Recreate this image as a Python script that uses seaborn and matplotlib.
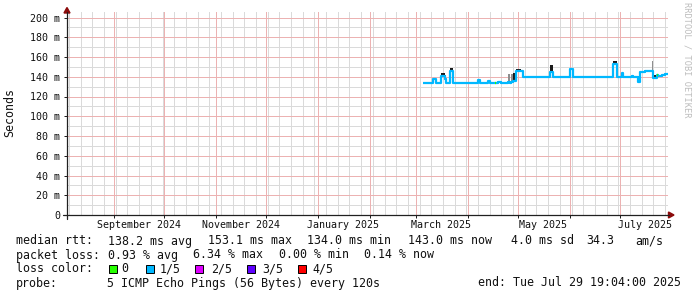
import numpy as np
import pandas as pd
import matplotlib
matplotlib.use("Agg")
import matplotlib.pyplot as plt
from matplotlib.patches import Rectangle, Polygon
from matplotlib.lines import Line2D
from matplotlib.transforms import blended_transform_factory
import seaborn as sns

# ---------------- data ----------------
sample_dates = [
    "2025-03-05", "2025-03-11", "2025-03-13", "2025-03-16", "2025-03-18",
    "2025-03-19", "2025-03-21", "2025-03-23", "2025-04-07", "2025-04-08",
    "2025-04-13", "2025-04-14", "2025-04-17", "2025-04-18", "2025-04-19",
    "2025-04-21", "2025-04-25", "2025-04-26", "2025-04-27", "2025-04-28",
    "2025-04-30", "2025-05-03", "2025-05-04", "2025-05-20", "2025-05-22",
    "2025-06-01", "2025-06-03", "2025-06-27", "2025-06-29", "2025-07-02",
    "2025-07-03", "2025-07-08", "2025-07-09", "2025-07-12", "2025-07-13",
    "2025-07-16", "2025-07-20", "2025-07-21", "2025-07-23", "2025-07-24",
    "2025-07-26", "2025-07-28", "2025-07-29 19:04",
]
median_ms = [
    134.0, 137.5, 134.0, 140.5, 138.0,
    134.0, 145.5, 134.0, 136.5, 134.0,
    135.5, 134.0, 134.0, 134.0, 135.0,
    134.0, 134.5, 134.0, 135.0, 136.0,
    145.5, 146.0, 139.6, 145.0, 139.6,
    147.5, 139.6, 153.0, 139.6, 143.5,
    139.6, 140.5, 139.6, 134.5, 144.5,
    145.5, 145.5, 138.5, 141.5, 141.0,
    142.0, 143.0, 143.0,
]
nan = np.nan
smoke_dark_top_ms = [
    nan, 139.0, nan, 143.5, 141.5,
    nan, 149.0, nan, nan, nan,
    nan, nan, nan, nan, nan,
    nan, nan, nan, nan, 144.0,
    147.5, nan, nan, 151.5, nan,
    nan, nan, 155.5, nan, nan,
    nan, nan, nan, 141.0, nan,
    nan, nan, 142.0, nan, nan,
    nan, nan, nan,
]
smoke_gray_top_ms = [
    nan, nan, nan, nan, nan,
    nan, nan, nan, nan, nan,
    nan, nan, nan, nan, nan,
    nan, 142.5, nan, 142.5, nan,
    nan, nan, nan, nan, nan,
    nan, nan, nan, nan, nan,
    nan, nan, nan, nan, nan,
    nan, 156.0, nan, nan, nan,
    nan, nan, nan,
]
loss_level = [
    1, 1, 1, 1, 1,
    1, 1, 1, 1, 1,
    1, 1, 0, 1, 1,
    1, 1, 1, 1, 1,
    1, 1, 1, 1, 1,
    1, 1, 1, 1, 1,
    1, 1, 1, 1, 1,
    1, 1, 1, 0, 1,
    1, 1, 1,
]

y_ticks_ms = [0, 20, 40, 60, 80, 100, 120, 140, 160, 180, 200]
y_tick_labels = ["0", "20 m", "40 m", "60 m", "80 m", "100 m", "120 m",
                 "140 m", "160 m", "180 m", "200 m"]
x_label_dates = ["2024-09-16", "2024-11-16", "2025-01-16",
                 "2025-03-16", "2025-05-16", "2025-07-16"]
x_label_texts = ["September 2024", "November 2024", "January 2025",
                 "March 2025", "May 2025", "July 2025"]
time_start = "2024-08-03 19:04"
time_end = "2025-07-29 19:04"

loss_names = ["0", "1/5", "2/5", "3/5", "4/5"]
loss_colors = ["#26ff00", "#00b8ff", "#dd00ff", "#5e00ff", "#ff0000"]

rtt_label = "median rtt:"
rtt_items = ["138.2 ms avg", "153.1 ms max", "134.0 ms min",
             "143.0 ms now", "4.0 ms sd", "34.3", "am/s"]
loss_label = "packet loss:"
loss_items = ["0.93 % avg", "6.34 % max", "0.00 % min", "0.14 % now"]
legend_label = "loss color:"
probe_label = "probe:"
probe_text = "5 ICMP Echo Pings (56 Bytes) every 120s"
end_text = "end: Tue Jul 29 19:04:00 2025"
ylabel_text = "Seconds"
watermark_text = "RRDTOOL / TOBI OETIKER"

# ---------------- figure ----------------
sns.set_style("white")
plt.rcParams["font.family"] = ["DejaVu Sans Mono"]

W, H = 697, 297
fig = plt.figure(figsize=(W / 100, H / 100), dpi=100)
fig.patch.set_facecolor("white")


def fx(px):
    return px / W


def fy(py):
    return 1 - py / H


x0, x1, y0, y1 = 67, 668, 215, 12
ax = fig.add_axes([fx(x0), fy(y0), (x1 - x0) / W, (y0 - y1) / H])
ax.set_facecolor("white")

df = pd.DataFrame({
    "date": pd.to_datetime(sample_dates, format="ISO8601"),
    "median_ms": median_ms,
    "dark_top": smoke_dark_top_ms,
    "gray_top": smoke_gray_top_ms,
    "loss": loss_level,
})

t0, t1 = pd.Timestamp(time_start), pd.Timestamp(time_end)

# smoke
for i in range(len(df) - 1):
    xs = [df["date"].iloc[i], df["date"].iloc[i + 1]]
    m = df["median_ms"].iloc[i]
    if not np.isnan(df["gray_top"].iloc[i]):
        ax.fill_between(xs, m - 1, df["gray_top"].iloc[i], color="#8e8e8e",
                        linewidth=0, zorder=3)
    if not np.isnan(df["dark_top"].iloc[i]):
        ax.fill_between(xs, m - 1, df["dark_top"].iloc[i], color="#1a1a1a",
                        linewidth=0, zorder=3)

# median line (colored by loss)
sns.lineplot(data=df, x="date", y="median_ms", ax=ax, color=loss_colors[1],
             linewidth=1.6, drawstyle="steps-post", estimator=None,
             legend=False, zorder=4, solid_capstyle="butt")
for i in range(len(df) - 1):
    if df["loss"].iloc[i] != 1:
        seg = df.iloc[i:i + 2].copy()
        seg["median_ms"] = seg["median_ms"].iloc[0]
        sns.lineplot(data=seg, x="date", y="median_ms", ax=ax,
                     color=loss_colors[df["loss"].iloc[i]], linewidth=1.6,
                     estimator=None, legend=False, zorder=5,
                     solid_capstyle="butt")

ax.set_xlim(t0, t1)
ax.set_ylim(0, 200 * (y0 - y1) / (y0 - 17.5))

# grid (drawn explicitly: weekly / monthly, 10 / 20 ms), crisp 1px lines
ax.grid(False)
week_lines = pd.date_range(t0.normalize(), t1, freq="W-MON")
month_lines = pd.date_range(t0.normalize(), t1, freq="MS")
month_set = set(month_lines)
gkw = dict(linewidth=0.72, antialiased=False)
for d in week_lines:
    if d not in month_set:
        ax.axvline(d, color="#dadada", zorder=1, **gkw)
for v in np.arange(10, 205, 20):
    ax.axhline(v, color="#dadada", zorder=1, **gkw)
for d in month_lines:
    ax.axvline(d, color="#ecb2b2", zorder=1.5, **gkw)
for v in y_ticks_ms[1:]:
    ax.axhline(v, color="#ecb2b2", zorder=1.5, **gkw)

ax.set_xlabel("")
ax.set_ylabel("")
for s in ax.spines.values():
    s.set_visible(False)

ax.set_xticks(list(month_lines))
ax.set_xticklabels([])
ax.set_yticks(y_ticks_ms)
ax.set_yticklabels(y_tick_labels, fontsize=7.2, color="#111111")
ax.minorticks_off()
ax.tick_params(axis="y", which="major", length=3 * 0.72, width=0.72,
               color="#202020", pad=2.6, left=True)
ax.tick_params(axis="x", which="major", length=2.2, width=0.72,
               color="#202020", bottom=True)

trans = blended_transform_factory(ax.transData, fig.transFigure)
for d, t in zip(x_label_dates, x_label_texts):
    ax.text(pd.Timestamp(d), fy(225.5), t, transform=trans, ha="center",
            va="center", fontsize=7.2, color="#111111", clip_on=False)

# axes lines with arrows (rrdtool style)
axis_c = "#202020"
arrow_c = "#8b0a0a"
fig.add_artist(Line2D([fx(63), fx(669)], [fy(215), fy(215)], color=axis_c,
                      linewidth=0.9))
fig.add_artist(Line2D([fx(67), fx(67)], [fy(219), fy(12)], color=axis_c,
                      linewidth=0.9))
fig.add_artist(Polygon([[fx(668.5), fy(212)], [fx(668.5), fy(218)],
                        [fx(674), fy(215)]], closed=True, color=arrow_c))
fig.add_artist(Polygon([[fx(64), fy(13)], [fx(70), fy(13)],
                        [fx(67), fy(7.5)]], closed=True, color=arrow_c))

# y label and watermark
fig.text(fx(10), fy(113), ylabel_text, rotation=90, ha="center", va="center",
         fontsize=8.4, color="#111111")
fig.text(fx(687), fy(60), watermark_text, rotation=270, ha="center",
         va="center", fontsize=6.2, color="#bdbdbd")

# legend / statistics lines
fs = 8.4
tc = "#111111"
row_y = [241, 255, 269, 283]
fig.text(fx(16), fy(row_y[0]), rtt_label, fontsize=fs, va="center", color=tc)
for px, t in zip([107.5, 207.6, 306.7, 407.6, 511, 586.7, 635.6], rtt_items):
    fig.text(fx(px), fy(row_y[0]), t, fontsize=fs, va="center", color=tc)
fig.text(fx(16), fy(row_y[1]), loss_label, fontsize=fs, va="center", color=tc)
for px, t in zip([107.5, 193.3, 279, 364.4], loss_items):
    fig.text(fx(px), fy(row_y[1]), t, fontsize=fs, va="center", color=tc)
fig.text(fx(16), fy(row_y[2]), legend_label, fontsize=fs, va="center", color=tc)
for bx, lx, name, col in zip([108.6, 145.5, 195.4, 246.6, 297.8],
                             [121, 160, 211, 262, 312],
                             loss_names, loss_colors):
    fig.add_artist(Rectangle((fx(bx), fy(row_y[2] + 4)), 8 / W, 8 / H,
                             facecolor=col, edgecolor="black", linewidth=0.7))
    fig.text(fx(lx), fy(row_y[2]), name, fontsize=fs, va="center", color=tc)
fig.text(fx(16), fy(row_y[3]), probe_label, fontsize=fs, va="center", color=tc)
fig.text(fx(107), fy(row_y[3]), probe_text, fontsize=fs, va="center", color=tc)
fig.text(fx(681), fy(row_y[3]), end_text, fontsize=fs, va="center", ha="right",
         color=tc)

fig.savefig("out.png", dpi=100, facecolor="white")
